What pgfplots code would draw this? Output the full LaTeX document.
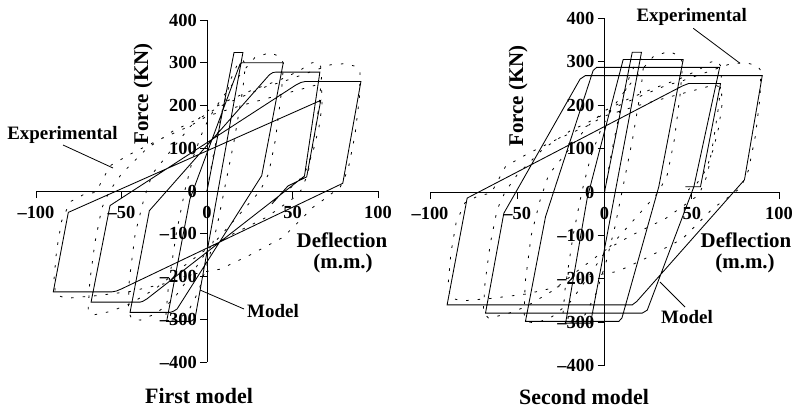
\documentclass[border=0pt]{standalone}
\usepackage{fontspec}
\setmainfont{Liberation Serif}
\usepackage{pgfplots}
\pgfplotsset{compat=1.18}

\pgfplotsset{
  hyst/.style={
    scale only axis,
    axis lines=middle,
    xmin=-100,xmax=100,ymin=-400,ymax=400,
    xtick={-100,-50,0,50,100},
    xticklabels={\textendash100,\textendash50,0,50,100},
    ytick={-400,-300,-200,-100,0,100,200,300,400},
    yticklabels={\textendash400,\textendash300,\textendash200,\textendash100,0,100,200,300,400},
    hide obscured x ticks=false,
    hide obscured y ticks=false,
    tick align=outside,
    major tick length=7bp,
    tick style={black, line width=0.9bp},
    axis line style={black, line width=0.9bp, -},
    ticklabel style={font=\fontsize{18.5}{20}\selectfont\bfseries, inner sep=0pt},
    xticklabel style={anchor=north, yshift=-8bp},
    yticklabel style={anchor=east, xshift=-3bp},
    clip=false,
  },
  model/.style={black, line width=0.85bp, no marks},
  expt/.style={black, line width=0.8bp, dash pattern=on 2.5bp off 9bp, no marks},
}

\newcommand{\expdata}{
(0,0) (4,90) (9,190) (14,262) (18,298) (21,306) (22.5,296) (21,240) (16,120) (11,20) (6,-80) (1,-160) (-5,-235) (-11,-282) (-17,-300) (-22,-303) (-24,-290) (-22.5,-220) (-18,-100) (-13,0) (-8,80) (-2,145) (4,190) (12,235) (20,275) (28,312) (36.8,324) (42.7,314) (44.8,298) (43.5,230) (40,120) (36,40) (31,0) (20,-50) (10,-95) (0,-140) (-10,-200) (-20,-255) (-30,-287) (-39,-302) (-44,-299) (-46,-282) (-45.5,-210) (-42,-100) (-37,-20) (-32,40) (-20,100) (-10,150) (0,187) (13.5,214) (27,237) (42.7,260) (54.4,282) (60,298) (64.2,303) (66.5,291) (67,268) (65.5,200) (62.5,120) (59,40) (55,2) (52.5,-11) (35,-61) (15.4,-100) (0,-135) (-15,-180) (-30,-228) (-45,-264) (-56.7,-282) (-66.5,-290) (-69.5,-278) (-68.5,-210) (-65.5,-120) (-61.5,-40) (-57,0) (-50,40) (-35,100) (-20,140) (-4,171) (7.6,198) (21.3,222) (35,245) (44.6,256) (54.4,270) (65,285) (72,295) (80.7,298) (87.5,291) (89.5,280) (89.2,220) (86.5,130) (82.5,50) (78,10) (70,-15) (62,-38) (44.6,-108) (25,-150) (7.6,-183) (0,-188) (-12,-198) (-24,-216) (-45,-235) (-65,-245) (-74,-248) (-82,-251) (-88.5,-243) (-89.5,-208) (-88,-140) (-85,-70) (-80,-25) (-72,-8) (-65,-3) (-56.7,59) (-45,86) (-27.5,121) (-10,152) (0,175) (20,200) (40,222) (55,238) (63,247) (67,240) (67.3,200) (65.5,150) (62.5,100) (58,50) (53,20) (48,5)
}

\begin{document}
\begin{tikzpicture}
\path[use as bounding box] (0,0) rectangle (795bp,-409bp);

% ---------- First model ----------
\begin{axis}[hyst, at={(36bp,-362bp)}, anchor=south west, width=342bp, height=342bp]
\addplot[model] coordinates {
(0,0) (15.8,324) (21,324) (-7,-298) (-9.5,-305) (-23.6,-305) (-10,-19) (19.3,297) (20.5,300) (44.6,300) (32,36)
(-17.5,-276) (-19.5,-281) (-21.6,-284) (-45,-284) (-33.7,-46) (36.5,272) (38.5,277) (40,278) (66,278) (57,35)
(-35,-252) (-37.5,-258) (-39.2,-260) (-67.8,-260) (-56.7,-34) (52,248) (55,254) (57.3,256) (90,256) (79.4,18)
(-50,-229) (-53,-234) (-55.7,-236) (-89.9,-236) (-81.1,-50) (66.5,212) (58.3,33) (47.4,12) (38,-30)
};
\addplot[expt] coordinates {\expdata};
\end{axis}

% ---------- Second model ----------
\begin{axis}[hyst, at={(430bp,-365.7bp)}, anchor=south west, width=349bp, height=347.4bp]
\addplot[model] coordinates {
(0,0) (15.9,322) (21.2,322) (-8,-302) (-22.3,-302) (-9.9,-14) (10.7,305) (45.1,305) (31.1,12) (10,-290) (8.2,-298)
(-45.3,-298) (-33.8,-57) (-6.5,280) (-4.5,287) (66,287) (51.2,12) (24.5,-272) (21.6,-279) (-68.2,-279) (-57.7,-49)
(-14,260) (-11,268) (90.4,268) (80.2,28) (18.5,-252) (15.9,-260) (-90.2,-260) (-78.7,-14) (44.5,244) (48.3,250)
(66.5,250) (55,12) (46.4,12)
};
\addplot[expt] coordinates {\expdata};
\end{axis}

% ---------- annotations ----------
\tikzset{lab/.style={font=\fontsize{19}{21}\selectfont\bfseries, inner sep=0pt},
         axl/.style={font=\fontsize{21}{23}\selectfont\bfseries, inner sep=0pt},
         ttl/.style={font=\fontsize{22}{24}\selectfont\bfseries, inner sep=0pt}}
% left
\node[lab] at (62.5bp,-135bp) {Experimental};
\draw[line width=0.8bp] (63bp,-145bp) -- (113bp,-168bp);
\node[lab] at (273bp,-311bp) {Model};
\draw[line width=0.8bp] (200bp,-290bp) -- (244bp,-309bp);
\node[axl] at (342bp,-240bp) {Deflection};
\node[axl] at (343bp,-263bp) {(m.m.)};
\node[axl, rotate=90] at (143bp,-94bp) {Force (KN)};
\node[ttl] at (199bp,-396bp) {First model};
% right
\node[lab] at (691.7bp,-16.7bp) {Experimental};
\draw[line width=0.8bp] (693.3bp,-28.3bp) -- (740bp,-63.3bp);
\node[lab] at (687bp,-316.7bp) {Model};
\draw[line width=0.8bp] (660bp,-282bp) -- (685bp,-307bp);
\node[axl] at (746bp,-240bp) {Deflection};
\node[axl] at (745bp,-263bp) {(m.m.)};
\node[axl, rotate=90] at (518bp,-96bp) {Force (KN)};
\node[ttl] at (584bp,-396.7bp) {Second model};
\end{tikzpicture}
\end{document}
